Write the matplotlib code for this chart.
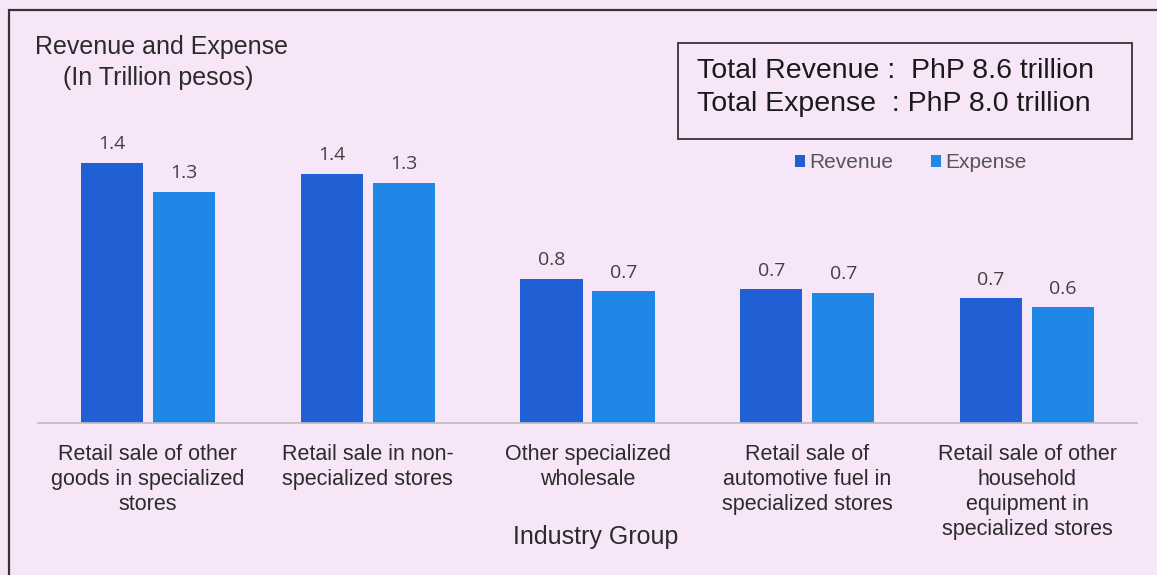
import numpy as np
import matplotlib.pyplot as plt
from matplotlib.patches import Rectangle

plt.rcParams['font.family'] = ['Liberation Sans', 'DejaVu Sans']

categories = ["Retail sale of other\ngoods in specialized\nstores",
              "Retail sale in non-\nspecialized stores",
              "Other specialized\nwholesale",
              "Retail sale of\nautomotive fuel in\nspecialized stores",
              "Retail sale of other\nhousehold\nequipment in\nspecialized stores"]
revenue = [1.44, 1.38, 0.80, 0.74, 0.69]
expense = [1.28, 1.33, 0.73, 0.72, 0.64]
total_revenue = 8.6
total_expense = 8.0

bg = '#F6E6F8'
rev_color = '#2160D4'
exp_color = '#1F88E6'
txt = '#2b2b2b'

fig = plt.figure(figsize=(11.57, 5.75), dpi=100)
fig.patch.set_facecolor(bg)

# outer frame (runs off the right and bottom edge)
fig.patches.append(Rectangle((9 / 1157, -0.05), 1.2, 1 - 10 / 575 + 0.05,
                             transform=fig.transFigure, fill=False,
                             edgecolor='#333333', linewidth=1.6))

ax = fig.add_axes([38 / 1157, 152 / 575, 1099 / 1157, 361 / 575])
ax.set_facecolor('none')

x = np.arange(len(categories))
w = 0.283
off = 0.164
b1 = ax.bar(x - off, revenue, w, color=rev_color)
b2 = ax.bar(x + off, expense, w, color=exp_color)

for bars, vals in [(b1, revenue), (b2, expense)]:
    for b, v in zip(bars, vals):
        ax.annotate(f'{v:.1f}', (b.get_x() + b.get_width() / 2, v),
                    xytext=(0, 7), textcoords='offset points',
                    ha='center', va='bottom', fontsize=14,
                    color='#404040', family=['Open Sans', 'DejaVu Sans'])

ax.set_xlim(-0.5, 4.5)
ax.set_ylim(0, 2.0)
for s in ['top', 'right', 'left']:
    ax.spines[s].set_visible(False)
ax.spines['bottom'].set_color('#BDBDBD')
ax.spines['bottom'].set_linewidth(1.2)
ax.set_yticks([])
ax.set_xticks(x)
ax.set_xticklabels(categories, fontsize=15.5, color=txt, linespacing=1.26, va='top')
ax.tick_params(axis='x', length=0, pad=15)

fig.text(596 / 1157, 1 - 537 / 575, 'Industry Group', ha='center', va='center',
         fontsize=18, color=txt)

fig.text(35 / 1157, 1 - 47 / 575, 'Revenue and Expense', ha='left', va='center',
         fontsize=18, color=txt)
fig.text(63 / 1157, 1 - 78 / 575, '(In Trillion pesos)', ha='left', va='center',
         fontsize=18, color=txt)

# totals box
fig.patches.append(Rectangle((678 / 1157, 1 - 139 / 575), 454 / 1157, 96 / 575,
                             transform=fig.transFigure, fill=False,
                             edgecolor='#333333', linewidth=1.3))
fig.text(697 / 1157, 1 - 71 / 575, f'Total Revenue :  PhP {total_revenue:.1f} trillion',
         ha='left', va='center', fontsize=20.5, color='#1a1a1a')
fig.text(697 / 1157, 1 - 104 / 575, f'Total Expense  : PhP {total_expense:.1f} trillion',
         ha='left', va='center', fontsize=20.5, color='#1a1a1a')

leg = ax.legend([b1, b2], ['Revenue', 'Expense'], loc='center',
                bbox_to_anchor=(911 / 1157, 1 - 163 / 575), bbox_transform=fig.transFigure,
                ncol=2, frameon=False, fontsize=15, handlelength=0.5, handleheight=0.5,
                handletextpad=0.2, columnspacing=1.8)
for t in leg.get_texts():
    t.set_color('#555555')

fig.savefig('out.png', dpi=100, facecolor=bg)
